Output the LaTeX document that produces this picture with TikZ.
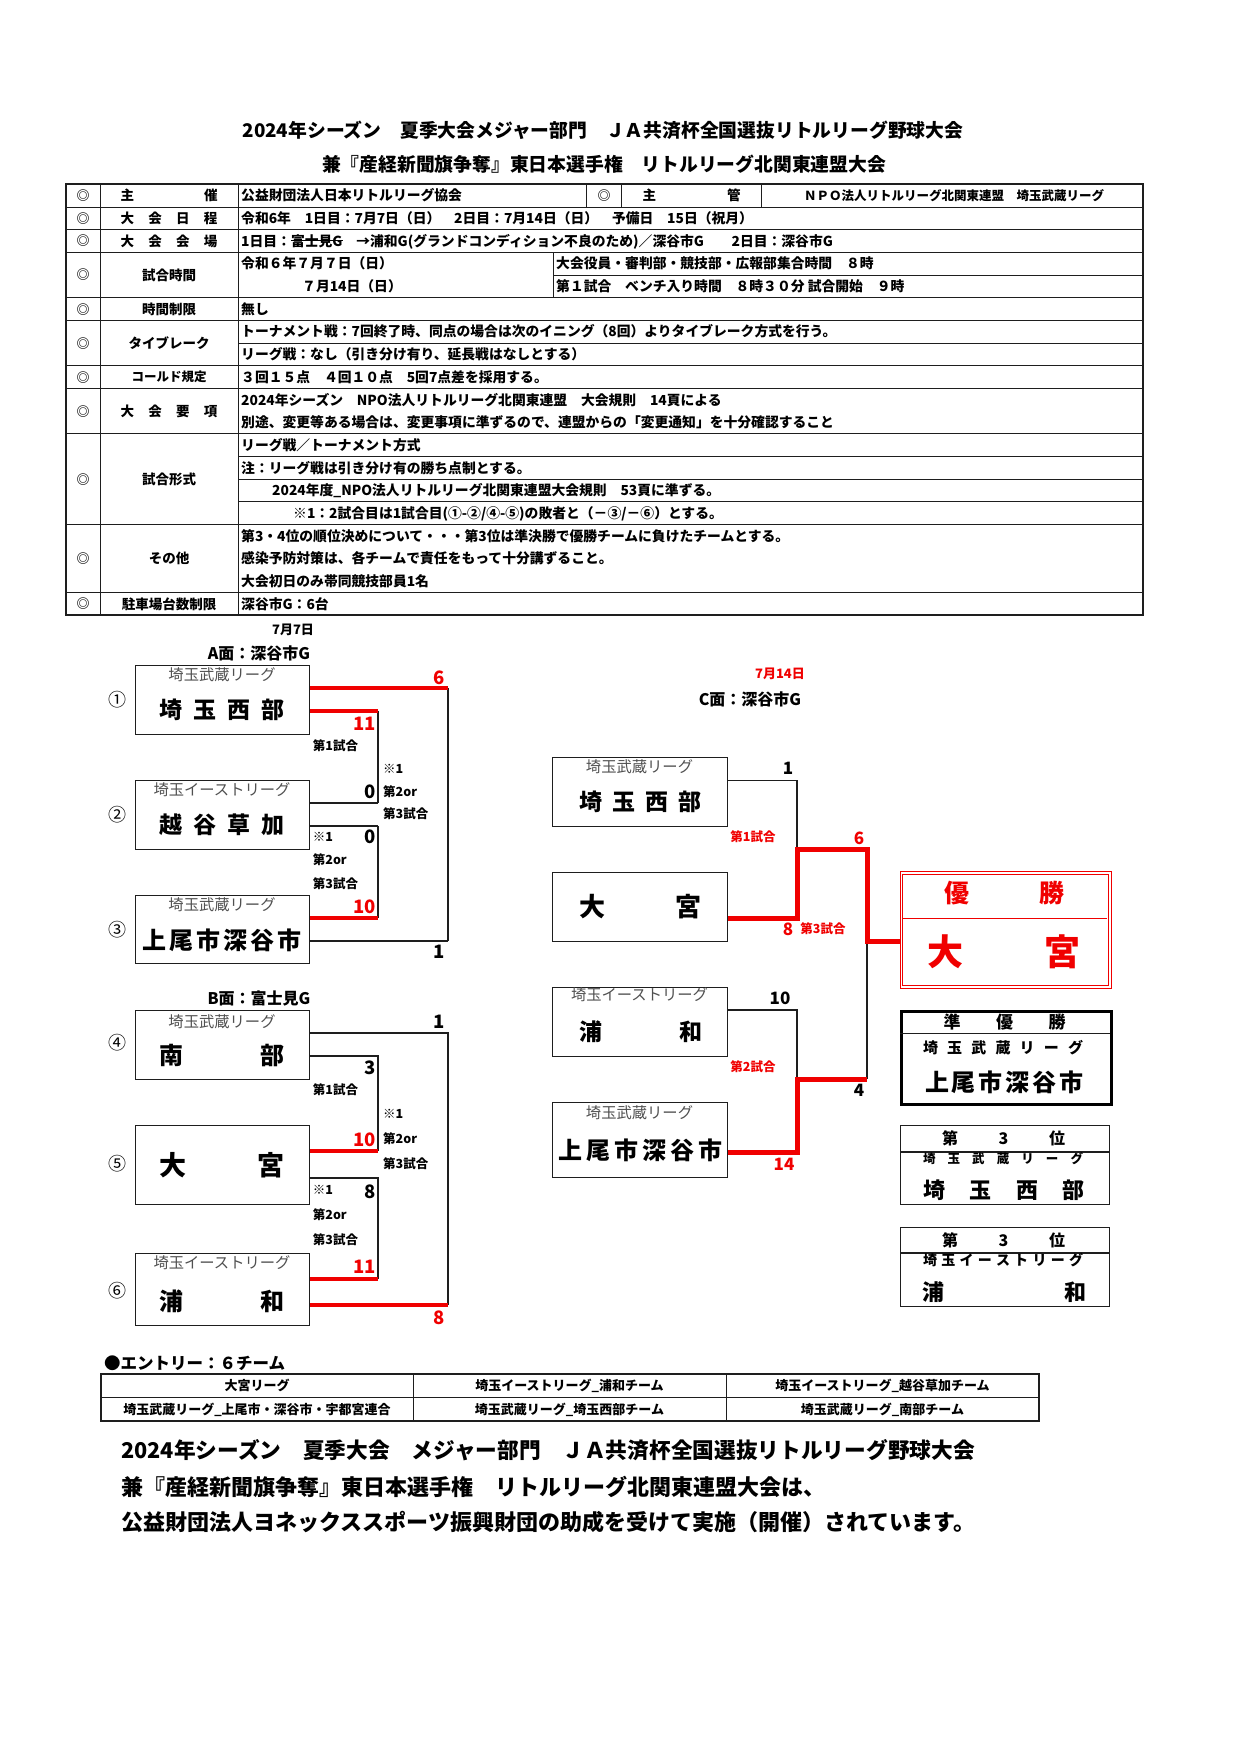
\documentclass[tikz,border=0pt]{standalone}
\usepackage{fontspec}
\setmainfont{Noto Sans CJK JP}
\definecolor{rd}{RGB}{240,0,0}
\definecolor{lg}{RGB}{80,80,80}
\definecolor{ln}{RGB}{30,30,30}
\newcommand\mystrike[1]{\sbox0{#1}\rlap{\rule[0.36em]{\wd0}{0.8pt}}#1}
\newcommand\sprd[2]{\makebox[#1][s]{#2}}
\tikzset{
 fb/.style={font=\bfseries\fontsize{#1pt}{#1pt}\selectfont, inner sep=0pt,
   /utils/exec={\pgfmathsetmacro\mytht{0.8*#1}\pgfmathsetmacro\mytdp{0.04*#1}},
   text height=\mytht pt, text depth=\mytdp pt},
 fr/.style={font=\fontsize{#1pt}{#1pt}\selectfont, inner sep=0pt,
   /utils/exec={\pgfmathsetmacro\mytht{0.8*#1}\pgfmathsetmacro\mytdp{0.04*#1}},
   text height=\mytht pt, text depth=\mytdp pt},
 tb/.style={draw=ln, line width=1pt},
 bk/.style={draw=ln, line width=1.2pt},
 rl/.style={draw=rd, line width=4pt},
 rlc/.style={draw=rd, line width=5pt},
 tbox/.style={draw=ln, line width=1.3pt, inner sep=0pt, anchor=north west, minimum width=174pt},
 cbox/.style={draw=ln, line width=1.3pt, inner sep=0pt, anchor=north west, minimum width=175pt},
 lgtxt/.style={fr=15.3, text=lg},
 glab/.style={fb=12.5, anchor=west},
 sc/.style={fb=18.5, anchor=east},
 sq/.style={fr=18},
}
\begin{document}
\begin{tikzpicture}[x=1pt,y=-1pt]
\useasboundingbox[fill=white] (0,0) rectangle (1240,1754);

% ---------- titles
\node[fb=18.8] (title1) at (603,130) {2024年シーズン　夏季大会メジャー部門　ＪＡ共済杯全国選抜リトルリーグ野球大会};
\node[fb=18.8] (title2) at (604,164) {兼『産経新聞旗争奪』東日本選手権　リトルリーグ北関東連盟大会};

% ---------- table grid
\draw[draw=ln, line width=1.8pt] (66,184.3) rectangle (1143,615.2);
\foreach \x in {100,238} \draw[tb] (\x,184.3) -- (\x,615.2);
\foreach \y in {207.0,229.7,252.3,297.7,320.4,365.7,388.4,433.8,524.5,592.5} \draw[tb] (66,\y) -- (1143,\y);
\foreach \y in {343.1,456.5,479.1,501.8} \draw[tb] (238,\y) -- (1143,\y);
\draw[tb] (553.3,275.0) -- (1143,275.0);
\draw[tb] (553.3,252.3) -- (553.3,297.7);
\foreach \x in {586.7,621.7,761.7} \draw[tb] (\x,184.3) -- (\x,207.0);

% marks
\foreach \y [count=\i] in {195.7,218.3,241.0,275.0,309.1,343.1,377.1,411.1,479.1,558.5,603.9}
  \node[fb=13] (mk\i) at (83,\y) {◎};
\node[fb=13] (mk12) at (604.2,195.7) {◎};

% labels
\node[fb=13.5] (lb1) at (169,195.7) {\sprd{97pt}{主\hfill 催}};
\node[fb=13.5] (lb2) at (169,218.3) {\sprd{97pt}{大\hfill 会\hfill 日\hfill 程}};
\node[fb=13.5] (lb3) at (169,241.0) {\sprd{97pt}{大\hfill 会\hfill 会\hfill 場}};
\node[fb=13.5] (lb4) at (169,275.0) {試合時間};
\node[fb=13.5] (lb5) at (169,309.1) {時間制限};
\node[fb=13.5] (lb6) at (169,343.1) {タイブレーク};
\node[fb=12.5] (lb7) at (169,377.1) {コールド規定};
\node[fb=13.5] (lb8) at (169,411.1) {\sprd{97pt}{大\hfill 会\hfill 要\hfill 項}};
\node[fb=13.5] (lb9) at (169,479.1) {試合形式};
\node[fb=13.5] (lb10) at (169,558.5) {その他};
\node[fb=13.5] (lb11) at (169,603.9) {駐車場台数制限};
\node[fb=13.5] (lb12) at (691.7,195.7) {\sprd{98pt}{主\hfill 管}};

% contents
\begin{scope}[every node/.append style={anchor=west}]
\node[fb=13.8] (c1) at (241,195.7) {公益財団法人日本リトルリーグ協会};
\node[fb=13.8] (c2) at (241,218.3) {令和6年　1日目：7月7日（日）　2日目：7月14日（日）　予備日　15日（祝月）};
\node[fb=13.8] (c3) at (241,241.0) {1日目：\mystrike{富士見G}　→浦和G(グランドコンディション不良のため)／深谷市G　　2日目：深谷市G};
\node[fb=13.8] (c4a) at (241,263.7) {令和６年７月７日（日）};
\node[fb=13.8] (c4b) at (302,286.4) {７月14日（日）};
\node[fb=13.8] (c4c) at (556,263.7) {大会役員・審判部・競技部・広報部集合時間　８時};
\node[fb=13.8] (c4d) at (556,286.4) {第１試合　ベンチ入り時間　８時３０分 試合開始　９時};
\node[fb=13.8] (c5) at (241,309.1) {無し};
\node[fb=13.8] (c6a) at (241,331.7) {トーナメント戦：7回終了時、同点の場合は次のイニング（8回）よりタイブレーク方式を行う。};
\node[fb=13.8] (c6b) at (241,354.4) {リーグ戦：なし（引き分け有り、延長戦はなしとする）};
\node[fb=13.8] (c7) at (241,377.1) {３回１５点　４回１０点　5回7点差を採用する。};
\node[fb=13.8] (c8a) at (241,399.8) {2024年シーズン　NPO法人リトルリーグ北関東連盟　大会規則　14頁による};
\node[fb=13.8] (c8b) at (241,422.4) {別途、変更等ある場合は、変更事項に準ずるので、連盟からの「変更通知」を十分確認すること};
\node[fb=13.8] (c9a) at (241,445.1) {リーグ戦／トーナメント方式};
\node[fb=13.8] (c9b) at (241,467.8) {注：リーグ戦は引き分け有の勝ち点制とする。};
\node[fb=13.8] (c9c) at (272,490.5) {2024年度\_NPO法人リトルリーグ北関東連盟大会規則　53頁に準ずる。};
\node[fb=13.8] (c9d) at (293,513.2) {※1：2試合目は1試合目(①-②/④-⑤)の敗者と（－③/－⑥）とする。};
\node[fb=13.8] (c10a) at (241,535.8) {第3・4位の順位決めについて・・・第3位は準決勝で優勝チームに負けたチームとする。};
\node[fb=13.8] (c10b) at (241,558.5) {感染予防対策は、各チームで責任をもって十分講ずること。};
\node[fb=13.8] (c10c) at (241,581.2) {大会初日のみ帯同競技部員1名};
\node[fb=13.8] (c11) at (241,603.9) {深谷市G：6台};
\end{scope}
\node[fb=12.5] (c1b) at (954,195.7) {ＮＰＯ法人リトルリーグ北関東連盟　埼玉武蔵リーグ};

% ---------- bracket headers
\node[fb=13] (d77) at (293,630) {7月7日};
\node[fb=16] (amen) at (259,653) {A面：深谷市G};
\node[fb=16] (bmen) at (259,998) {B面：富士見G};
\node[fb=13, text=rd] (d714) at (780,674) {7月14日};
\node[fb=16] (cmen) at (750,699) {C面：深谷市G};

% ---------- left boxes
\node[tbox, minimum height=69pt] (b1) at (135,665) {};
\node[tbox, minimum height=69pt] (b2) at (135,780) {};
\node[tbox, minimum height=68pt] (b3) at (135,895) {};
\node[tbox, minimum height=69pt] (b4) at (135,1010) {};
\node[tbox, minimum height=79pt] (b5) at (135,1125) {};
\node[tbox, minimum height=72pt] (b6) at (135,1253) {};

\node[lgtxt] (b1l) at (222,675) {埼玉武蔵リーグ};
\node[fb=23] (b1t) at (222,710) {\sprd{125pt}{埼\hfill 玉\hfill 西\hfill 部}};
\node[lgtxt] (b2l) at (222,790) {埼玉イーストリーグ};
\node[fb=23] (b2t) at (222,825) {\sprd{125pt}{越\hfill 谷\hfill 草\hfill 加}};
\node[lgtxt] (b3l) at (222,905) {埼玉武蔵リーグ};
\node[fb=24] (b3t) at (222,940) {\sprd{160pt}{上\hfill 尾\hfill 市\hfill 深\hfill 谷\hfill 市}};
\node[lgtxt] (b4l) at (222,1021.7) {埼玉武蔵リーグ};
\node[fb=24] (b4t) at (222,1055) {\sprd{125pt}{南\hfill 部}};
\node[fb=27] (b5t) at (222,1165) {\sprd{125pt}{大\hfill 宮}};
\node[lgtxt] (b6l) at (222,1263) {埼玉イーストリーグ};
\node[fb=24] (b6t) at (222,1301.7) {\sprd{125pt}{浦\hfill 和}};

\node[sq] (n1) at (117,700) {①};
\node[sq] (n2) at (117,815) {②};
\node[sq] (n3) at (117,930) {③};
\node[sq] (n4) at (117,1043) {④};
\node[sq] (n5) at (117,1164) {⑤};
\node[sq] (n6) at (117,1291) {⑥};

% ---------- bracket A
\coordinate (jA1) at (448,688);
\coordinate (jA2) at (448,941);
\coordinate (jA3) at (378,711);
\coordinate (jA4) at (378,803);
\coordinate (jA5) at (378,826);
\coordinate (jA6) at (378,918);
\draw[bk] (jA1) -- (jA2);
\draw[bk] (jA3) -- (jA4);
\draw[bk] (jA5) -- (jA6);
\draw[bk] (b2.east |- jA4) -- (jA4);
\draw[bk] (b2.east |- jA5) -- (jA5);
\draw[bk] (b3.east |- jA2) -- (jA2);
\draw[rl] (b1.east |- jA1) -- (jA1);
\draw[rl] (b1.east |- jA3) -- (jA3);
\draw[rl] (b3.east |- jA6) -- (jA6);

\node[sc, text=rd] (sA1) at (445,677.3) {6};
\node[sc, text=rd] (sA2) at (376,723.3) {11};
\node[sc] (sA3) at (376,791.7) {0};
\node[sc] (sA4) at (376,836.7) {0};
\node[sc, text=rd] (sA5) at (376,906) {10};
\node[sc] (sA6) at (445,951.7) {1};
\node[glab] (gA1) at (312.7,746) {第1試合};
\node[glab] (gA2) at (383,768.3) {※1};
\node[glab] (gA3) at (383,791.7) {第2or};
\node[glab] (gA4) at (383,814) {第3試合};
\node[glab] (gA5) at (312.7,836.7) {※1};
\node[glab] (gA6) at (312.7,860) {第2or};
\node[glab] (gA7) at (312.7,883.3) {第3試合};

% ---------- bracket B
\coordinate (jB1) at (448,1033);
\coordinate (jB2) at (448,1305);
\coordinate (jB3) at (378,1056);
\coordinate (jB4) at (378,1151);
\coordinate (jB5) at (378,1178);
\coordinate (jB6) at (378,1279);
\draw[bk] (b4.east |- jB1) -- (jB1) -- (jB2);
\draw[bk] (b4.east |- jB3) -- (jB3) -- (jB4);
\draw[bk] (b5.east |- jB5) -- (jB5) -- (jB6);
\draw[rl] (b6.east |- jB2) -- (jB2);
\draw[rl] (b5.east |- jB4) -- (jB4);
\draw[rl] (b6.east |- jB6) -- (jB6);

\node[sc] (sB1) at (445,1021.7) {1};
\node[sc] (sB2) at (376,1067.3) {3};
\node[sc, text=rd] (sB3) at (376,1139.3) {10};
\node[sc] (sB4) at (376,1191.7) {8};
\node[sc, text=rd] (sB5) at (376,1266) {11};
\node[sc, text=rd] (sB6) at (445,1317) {8};
\node[glab] (gB1) at (312.7,1090) {第1試合};
\node[glab] (gB2) at (383,1113.3) {※1};
\node[glab] (gB3) at (383,1138.3) {第2or};
\node[glab] (gB4) at (383,1163.3) {第3試合};
\node[glab] (gB5) at (312.7,1190) {※1};
\node[glab] (gB6) at (312.7,1215) {第2or};
\node[glab] (gB7) at (312.7,1240) {第3試合};

% ---------- bracket C
\node[cbox, minimum height=69pt] (cb1) at (552,757) {};
\node[cbox, minimum height=69pt] (cb2) at (552,872) {};
\node[cbox, minimum height=69pt] (cb3) at (552,987) {};
\node[cbox, minimum height=75pt] (cb4) at (552,1102) {};
\node[lgtxt] (cb1l) at (639.5,766.7) {埼玉武蔵リーグ};
\node[fb=23] (cb1t) at (640.5,801.7) {\sprd{123pt}{埼\hfill 玉\hfill 西\hfill 部}};
\node[fb=26] (cb2t) at (640.5,906.7) {\sprd{123pt}{大\hfill 宮}};
\node[lgtxt] (cb3l) at (639.5,995) {埼玉イーストリーグ};
\node[fb=23] (cb3t) at (640.5,1031.7) {\sprd{123pt}{浦\hfill 和}};
\node[lgtxt] (cb4l) at (639.5,1113) {埼玉武蔵リーグ};
\node[fb=24] (cb4t) at (640.5,1150) {\sprd{164pt}{上\hfill 尾\hfill 市\hfill 深\hfill 谷\hfill 市}};

% award boxes
\node[draw=rd, line width=1pt, inner sep=0pt, anchor=north west,
      minimum width=211pt, minimum height=117pt] (win) at (899.5,871) {};
\draw[draw=rd, line width=1pt] ([shift={(3.3,3.3)}]win.north west) rectangle ([shift={(-3.3,-3.3)}]win.south east);
\draw[draw=rd, line width=1pt] (902.8,918) -- (1107.2,918);
\node[fb=25, text=rd] (winh) at (1004.5,893) {\sprd{120pt}{優\hfill 勝}};
\node[fb=36, text=rd] (wint) at (1004,952) {\sprd{154pt}{大\hfill 宮}};

\node[draw=black, line width=2.6pt, inner sep=0pt, anchor=north west,
      minimum width=210pt, minimum height=93pt] (ru) at (900,1010) {};
\draw[draw=ln, line width=1pt] (900,1033) -- (1110,1033);
\node[fb=17] (ruh) at (1004.5,1022) {\sprd{122pt}{準\hfill 優\hfill 勝}};
\node[fb=15] (rul) at (1003,1048) {\sprd{160pt}{埼\hfill 玉\hfill 武\hfill 蔵\hfill リ\hfill ー\hfill グ}};
\node[fb=24] (rut) at (1004,1082) {\sprd{158pt}{上\hfill 尾\hfill 市\hfill 深\hfill 谷\hfill 市}};

\node[draw=ln, line width=1.3pt, inner sep=0pt, anchor=north west,
      minimum width=209pt, minimum height=79pt] (th1) at (900,1125) {};
\draw[draw=ln, line width=1.3pt] (900,1152) -- (1109,1152);
\node[fb=16] (th1h) at (1003.5,1138) {\sprd{123pt}{第\hfill 3\hfill 位}};
\node[fb=12.5] (th1l) at (1003,1158.5) {\sprd{160pt}{埼\hfill 玉\hfill 武\hfill 蔵\hfill リ\hfill ー\hfill グ}};
\node[fb=22] (th1t) at (1004,1190) {\sprd{162pt}{埼\hfill 玉\hfill 西\hfill 部}};

\node[draw=ln, line width=1.3pt, inner sep=0pt, anchor=north west,
      minimum width=209pt, minimum height=79pt] (th2) at (900,1227) {};
\draw[draw=ln, line width=1.3pt] (900,1253) -- (1109,1253);
\node[fb=16] (th2h) at (1003.5,1240) {\sprd{123pt}{第\hfill 3\hfill 位}};
\node[fb=14] (th2l) at (1003,1260) {\sprd{160pt}{埼\hfill 玉\hfill イ\hfill ー\hfill ス\hfill ト\hfill リ\hfill ー\hfill グ}};
\node[fb=22] (th2t) at (1004,1292) {\sprd{164pt}{浦\hfill 和}};

% C connectors
\coordinate (jC1) at (797,780.7);
\coordinate (jC2) at (797,849);
\coordinate (jC3) at (867,849);
\coordinate (jC4) at (867,941);
\coordinate (jC5) at (797,918);
\coordinate (jC6) at (797,1010);
\coordinate (jC7) at (797,1079);
\coordinate (jC8) at (867,1079);
\coordinate (jC9) at (797,1152);
\draw[bk] (cb1.east |- jC1) -- (jC1) -- (jC2);
\draw[bk] (cb3.east |- jC6) -- (jC6) -- (jC7);
\draw[bk] (jC4) -- (jC8);
\draw[rlc] (cb2.east |- jC5) -- (jC5) -- (jC2) -- (jC3) -- (jC4) -- (win.west |- jC4);
\draw[rlc] (cb4.east |- jC9) -- (jC9) -- (jC7) -- (jC8);

\node[fb=17] (sC1) at (788,768) {1};
\node[fb=17, text=rd] (sC2) at (859,838) {6};
\node[fb=12.5, text=rd] (gC1) at (753,837) {第1試合};
\node[fb=17, text=rd] (sC3) at (788,929) {8};
\node[fb=12.5, text=rd] (gC3) at (823,929) {第3試合};
\node[fb=17] (sC4) at (780,998) {10};
\node[fb=12.5, text=rd] (gC2) at (753,1067) {第2試合};
\node[fb=17] (sC5) at (859,1090) {4};
\node[fb=17, text=rd] (sC6) at (784,1164) {14};

% ---------- entry
\node[fb=16.5, anchor=west] (ent) at (104,1363) {●エントリー：６チーム};
\draw[draw=ln, line width=1.6pt] (101,1374) rectangle (1039,1421);
\draw[tb] (101,1397.5) -- (1039,1397.5);
\draw[tb] (413,1374) -- (413,1421);
\draw[tb] (726,1374) -- (726,1421);
\node[fb=13] (e1) at (257,1386) {大宮リーグ};
\node[fb=13] (e2) at (569.5,1386) {埼玉イーストリーグ\_浦和チーム};
\node[fb=13] (e3) at (882.5,1386) {埼玉イーストリーグ\_越谷草加チーム};
\node[fb=13] (e4) at (257,1409.5) {埼玉武蔵リーグ\_上尾市・深谷市・宇都宮連合};
\node[fb=13] (e5) at (569.5,1409.5) {埼玉武蔵リーグ\_埼玉西部チーム};
\node[fb=13] (e6) at (882.5,1409.5) {埼玉武蔵リーグ\_南部チーム};

% ---------- closing paragraph
\node[fb=21.7, anchor=west] (p1) at (121,1450) {2024年シーズン　夏季大会　メジャー部門　ＪＡ共済杯全国選抜リトルリーグ野球大会};
\node[fb=22, anchor=west] (p2) at (121,1487) {兼『産経新聞旗争奪』東日本選手権　リトルリーグ北関東連盟大会は、};
\node[fb=22, anchor=west] (p3) at (121,1522) {公益財団法人ヨネックススポーツ振興財団の助成を受けて実施（開催）されています。};
\end{tikzpicture}
\end{document}
